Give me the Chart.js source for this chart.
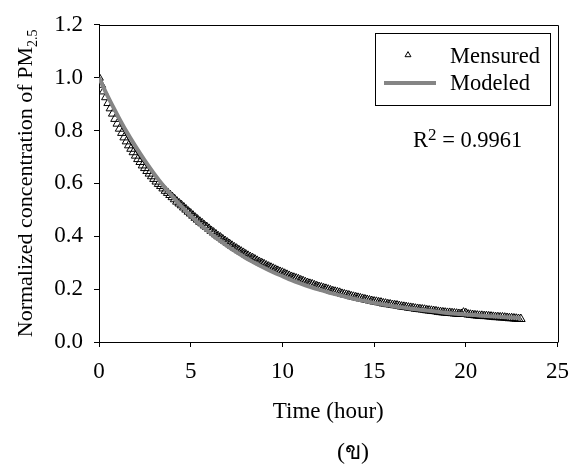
<!DOCTYPE html>
<html>
<head>
<meta charset="utf-8">
<script src="https://cdn.jsdelivr.net/npm/chart.js@4"></script>
<style>
  html, body { margin: 0; padding: 0; background: #fff; }
  #wrap { width: 580px; height: 466px; }
</style>
</head>
<body>
<div id="wrap"><canvas id="decayChart" width="580" height="466"></canvas></div>
<script>
// measured PM2.5 readings, one every 7.5 minutes from t = 0 h
const sampleStep = 0.125;
const measuredValues = [
  1.000, 0.973, 0.948, 0.926, 0.904, 0.884, 0.864, 0.844, 0.826, 0.807,
  0.791, 0.774, 0.759, 0.744, 0.731, 0.718, 0.705, 0.692, 0.681, 0.668,
  0.658, 0.647, 0.637, 0.627, 0.617, 0.607, 0.598, 0.590, 0.581, 0.572,
  0.564, 0.556, 0.548, 0.540, 0.531, 0.524, 0.517, 0.509, 0.501, 0.493,
  0.486, 0.478, 0.470, 0.463, 0.455, 0.449, 0.441, 0.435, 0.428, 0.420,
  0.414, 0.407, 0.400, 0.395, 0.388, 0.382, 0.376, 0.370, 0.364, 0.358,
  0.353, 0.347, 0.342, 0.337, 0.331, 0.326, 0.321, 0.317, 0.312, 0.307,
  0.302, 0.298, 0.294, 0.289, 0.285, 0.281, 0.277, 0.273, 0.269, 0.265,
  0.262, 0.258, 0.254, 0.250, 0.246, 0.243, 0.240, 0.237, 0.233, 0.230,
  0.226, 0.223, 0.220, 0.218, 0.214, 0.211, 0.208, 0.206, 0.203, 0.201,
  0.198, 0.195, 0.192, 0.190, 0.188, 0.186, 0.182, 0.180, 0.178, 0.176,
  0.173, 0.171, 0.169, 0.167, 0.165, 0.163, 0.161, 0.159, 0.157, 0.155,
  0.153, 0.152, 0.150, 0.149, 0.146, 0.145, 0.143, 0.142, 0.140, 0.139,
  0.138, 0.136, 0.134, 0.133, 0.132, 0.130, 0.129, 0.128, 0.126, 0.125,
  0.124, 0.123, 0.122, 0.120, 0.119, 0.118, 0.117, 0.116, 0.114, 0.113,
  0.112, 0.111, 0.110, 0.110, 0.109, 0.108, 0.107, 0.106, 0.106, 0.111,
  0.109, 0.104, 0.103, 0.102, 0.101, 0.100, 0.099, 0.099, 0.098, 0.098,
  0.097, 0.096, 0.095, 0.094, 0.094, 0.093, 0.093, 0.092, 0.091, 0.090,
  0.090, 0.089, 0.088, 0.087, 0.087
];

// modeled curve, read every half hour
const modelStep = 0.5;
const modeledValues = [
  1.000, 0.926, 0.859, 0.796, 0.739, 0.686, 0.637, 0.592, 0.551, 0.513,
  0.478, 0.445, 0.416, 0.388, 0.363, 0.340, 0.318, 0.299, 0.281, 0.264,
  0.249, 0.234, 0.221, 0.209, 0.198, 0.188, 0.179, 0.170, 0.162, 0.155,
  0.148, 0.142, 0.136, 0.131, 0.126, 0.122, 0.118, 0.114, 0.110, 0.107,
  0.104, 0.102, 0.099, 0.097, 0.095, 0.093, 0.091
];

const seriesLabels = ['Mensured', 'Modeled'];
const xTicks = [0, 5, 10, 15, 20, 25];
const yTicks = [0.0, 0.2, 0.4, 0.6, 0.8, 1.0, 1.2];
const xTitle = 'Time (hour)';
const yTitle = 'Normalized concentration of PM';
const ySub = '2.5';
const rSquared = '0.9961';
const panelTag = '(ข)';

const serif = "'Liberation Serif', 'Times New Roman', serif";
const modelGrey = '#858585';

const measuredPoints = measuredValues.map((v, i) => ({ x: i * sampleStep, y: v }));
const modeledPoints = modeledValues.map((v, i) => ({ x: i * modelStep, y: v }));

// frame, legend box, R² and the titles (the y title has a subscript)
const decorations = {
  id: 'decorations',
  afterDraw(chart) {
    const { ctx, chartArea: a } = chart;
    ctx.save();
    ctx.strokeStyle = '#000';
    ctx.lineWidth = 1;
    ctx.beginPath();
    ctx.moveTo(Math.round(a.left) + 0.5, Math.round(a.top) + 0.5);
    ctx.lineTo(Math.round(a.right) + 0.5, Math.round(a.top) + 0.5);
    ctx.lineTo(Math.round(a.right) + 0.5, Math.round(a.bottom) + 0.5);
    ctx.stroke();

    // legend
    const bx = Math.round(a.right) - 183, by = Math.round(a.top) + 8;
    ctx.fillStyle = '#fff';
    ctx.fillRect(bx, by, 175, 72);
    ctx.strokeRect(bx + 0.5, by + 0.5, 175, 72);

    ctx.beginPath();
    const tx = bx + 33, ty = by + 22, r = 3.4;
    ctx.moveTo(tx, ty - r);
    ctx.lineTo(tx + r * 0.87, ty + r * 0.5);
    ctx.lineTo(tx - r * 0.87, ty + r * 0.5);
    ctx.closePath();
    ctx.stroke();

    ctx.strokeStyle = modelGrey;
    ctx.lineWidth = 4;
    ctx.beginPath();
    ctx.moveTo(bx + 9, by + 50);
    ctx.lineTo(bx + 61, by + 50);
    ctx.stroke();

    ctx.fillStyle = '#000';
    ctx.font = '22.5px ' + serif;
    ctx.textAlign = 'left';
    ctx.textBaseline = 'alphabetic';
    ctx.fillText(seriesLabels[0], bx + 75, by + 30);
    ctx.fillText(seriesLabels[1], bx + 75, by + 57);

    // R²
    let rx = 413;
    const ry = 147;
    ctx.fillText('R', rx, ry);
    rx += ctx.measureText('R').width;
    ctx.font = '17px ' + serif;
    ctx.fillText('2', rx, ry - 7);
    rx += ctx.measureText('2').width;
    ctx.font = '22.5px ' + serif;
    ctx.fillText(' = ' + rSquared, rx, ry);

    // x title and panel tag
    ctx.textAlign = 'center';
    ctx.font = '23px ' + serif;
    ctx.fillText(xTitle, (a.left + a.right) / 2, 418);
    ctx.font = '24px ' + serif;
    ctx.fillText(panelTag, 353, 459);

    // y title, rotated
    ctx.translate(32, (a.top + a.bottom) / 2);
    ctx.rotate(-Math.PI / 2);
    ctx.font = '22px ' + serif;
    const w1 = ctx.measureText(yTitle).width;
    ctx.font = '14px ' + serif;
    const w2 = ctx.measureText(ySub).width;
    const start = -(w1 + w2) / 2;
    ctx.textAlign = 'left';
    ctx.font = '22px ' + serif;
    ctx.fillText(yTitle, start, 0);
    ctx.font = '14px ' + serif;
    ctx.fillText(ySub, start + w1, 5);
    ctx.restore();
  }
};

new Chart(document.getElementById('decayChart'), {
  type: 'line',
  data: {
    datasets: [
      {
        label: seriesLabels[0],
        data: measuredPoints,
        showLine: false,
        pointStyle: 'triangle',
        pointRadius: 5,
        pointBorderWidth: 1,
        pointBorderColor: '#000',
        pointBackgroundColor: 'rgba(0,0,0,0)',
        order: 2,
      },
      {
        label: seriesLabels[1],
        data: modeledPoints,
        borderColor: modelGrey,
        borderWidth: 4,
        pointRadius: 0,
        tension: 0.4,
        fill: false,
        order: 1,
      },
    ],
  },
  options: {
    responsive: false,
    animation: false,
    layout: { padding: { left: 0, top: 18, right: 18, bottom: 0 } },
    plugins: {
      legend: { display: false },
      title: { display: false },
      tooltip: { enabled: false },
    },
    scales: {
      x: {
        type: 'linear',
        min: 0,
        max: 25,
        afterFit: (scale) => { scale.height = 124; },
        afterBuildTicks: (scale) => { scale.ticks = xTicks.map((v) => ({ value: v })); },
        ticks: {
          color: '#000',
          padding: 11,
          maxRotation: 0,
          font: { family: serif, size: 23 },
          callback: (v) => String(v),
        },
        grid: { drawOnChartArea: false, drawTicks: true, tickLength: 5, color: '#000' },
        border: { display: true, color: '#000', width: 1 },
      },
      y: {
        type: 'linear',
        min: 0,
        max: 1.2,
        afterFit: (scale) => { scale.width = 99; },
        afterBuildTicks: (scale) => { scale.ticks = yTicks.map((v) => ({ value: v })); },
        ticks: {
          color: '#000',
          padding: 11,
          font: { family: serif, size: 23 },
          callback: (v) => Number(v).toFixed(1),
        },
        grid: { drawOnChartArea: false, drawTicks: true, tickLength: 5, color: '#000' },
        border: { display: true, color: '#000', width: 1 },
      },
    },
  },
  plugins: [decorations],
});
</script>
</body>
</html>
